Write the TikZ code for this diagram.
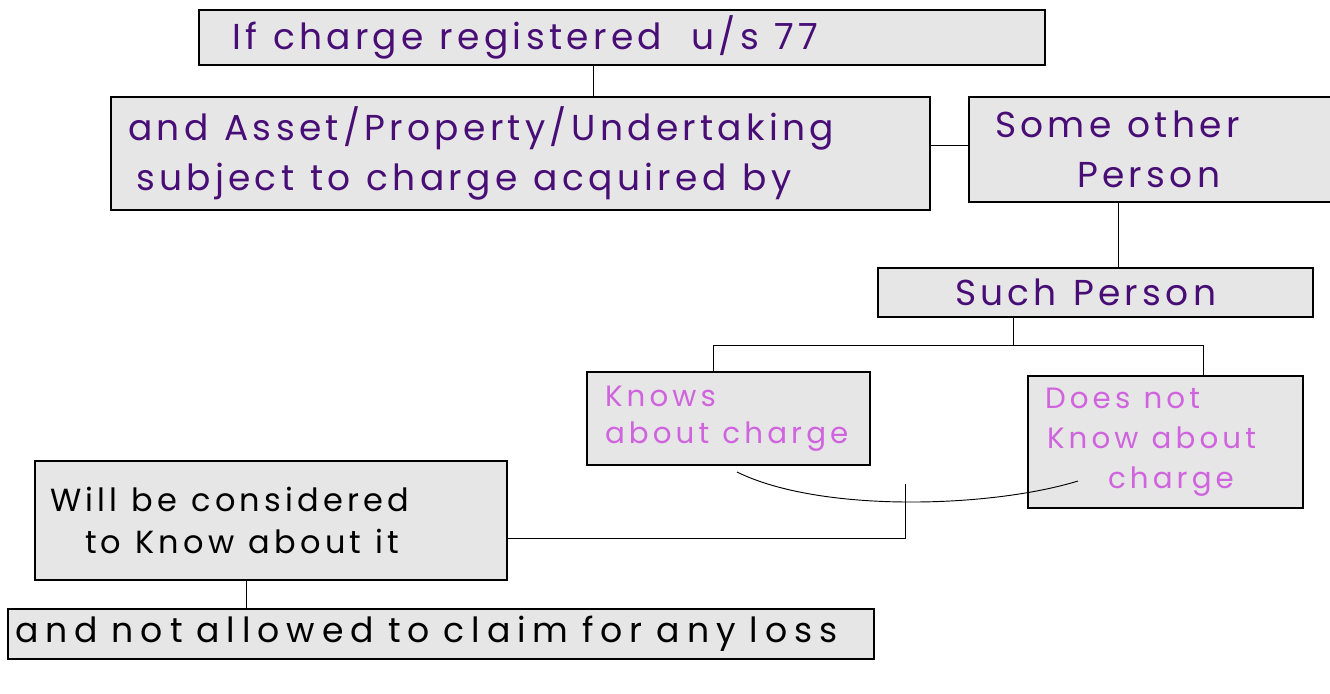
\documentclass[tikz,border=0pt]{standalone}
\usepackage{fontspec}
\setmainfont{Poppins}
\newfontfamily\handP[LetterSpace=12]{Poppins}
\newfontfamily\handO[LetterSpace=14]{Poppins}
\newfontfamily\handB[LetterSpace=13]{Poppins}
\newfontfamily\handW[LetterSpace=20]{Poppins}
\definecolor{boxfill}{RGB}{230,230,230}
\definecolor{purp}{RGB}{72,14,118}
\definecolor{orch}{RGB}{208,100,222}
\tikzset{
  box/.style={draw=black, line width=1.1pt, fill=boxfill, rectangle, inner sep=0pt, align=left},
  conn/.style={draw=black, line width=0.7pt},
  ptext/.style={text=purp, font=\handP\fontsize{27}{37.5}\selectfont, execute at begin node={\spaceskip=12pt\relax}},
  otext/.style={text=orch, font=\handO\fontsize{22}{28}\selectfont, execute at begin node={\spaceskip=9.9pt\relax}},
  btext/.style={text=black, font=\handB\fontsize{24}{32}\selectfont, execute at begin node={\spaceskip=10.8pt\relax}}
}
\begin{document}
\begin{tikzpicture}[x=0.75pt,y=-0.75pt]
\useasboundingbox (0,0) rectangle (1330,693);
\node[box, ptext, minimum width=634.5pt, minimum height=41.25pt, text width=634.5pt] (top) at (622,37.5)
  {\hspace*{24.75pt}If charge registered\hspace{22pt}u/s 77};
\node[box, ptext, minimum width=614.25pt, minimum height=84.75pt, text width=614.25pt] (acq) at (520.5,153.5)
  {\hspace*{12.75pt}and Asset/Property/Undertaking\\\hspace*{18.75pt}subject to charge acquired by};
\node[box, ptext, minimum width=278.25pt, minimum height=78.75pt, text width=278.25pt] (other) at (1154.5,149.5)
  {\hspace*{19.5pt}Some other\\\hspace*{81pt}Person};
\node[box, ptext, minimum width=326.25pt, minimum height=36.75pt, text width=326.25pt] (such) at (1095.5,292.5)
  {\hspace*{57.75pt}Such Person};
\node[box, otext, minimum width=212.25pt, minimum height=69.75pt, text width=212.25pt] (knows) at (728.5,418.5)
  {\hspace*{13.5pt}Knows\\\hspace*{13.5pt}about charge};
\node[box, otext, font=\handO\fontsize{22}{30}\selectfont, minimum width=206.25pt, minimum height=99pt, text width=206.25pt] (doesnot) at (1165.5,442)
  {\hspace*{12.75pt}Does not\\\hspace*{14.25pt}Know about\\\hspace*{60pt}charge};
\node[box, btext, minimum width=354pt, minimum height=89.25pt, text width=354pt] (will) at (271,520.5)
  {\hspace*{11.25pt}Will be considered\\\hspace*{37.5pt}to Know about it};
\node[box, btext, font=\handW\fontsize{26}{32}\selectfont, execute at begin node={\spaceskip=10.4pt\relax}, minimum width=649.5pt, minimum height=37.5pt, text width=649.5pt] (loss) at (441,634)
  {\hspace*{5.25pt}and not allowed to claim for any loss};
% connectors
\coordinate (tx) at (593,80);
\draw[conn] (tx |- top.south) -- (tx |- acq.north);
\draw[conn] (acq.east |- 0,145) coordinate (ae) -- (ae -| other.west);
\coordinate (ox) at (1118,230);
\draw[conn] (ox |- other.south) -- (ox |- such.north);
\coordinate (sx) at (1013,345);
\coordinate (kx) at (713,345);
\coordinate (dx) at (1203,345);
\draw[conn] (sx |- such.south) -- (sx);
\draw[conn] (kx |- knows.north) -- (kx) -- (dx) -- (dx |- doesnot.north);
\coordinate (c1) at (737,472);
\coordinate (c2) at (1078,481);
\draw[conn] (c1) .. controls (820,513) and (990,508) .. (c2);
\coordinate (j) at (905,484);
\coordinate (k) at (905,538);
\draw[conn] (j) -- (k) -- (k -| will.east);
\coordinate (wx) at (246,595);
\draw[conn] (wx |- will.south) -- (wx |- loss.north);
\end{tikzpicture}
\end{document}
